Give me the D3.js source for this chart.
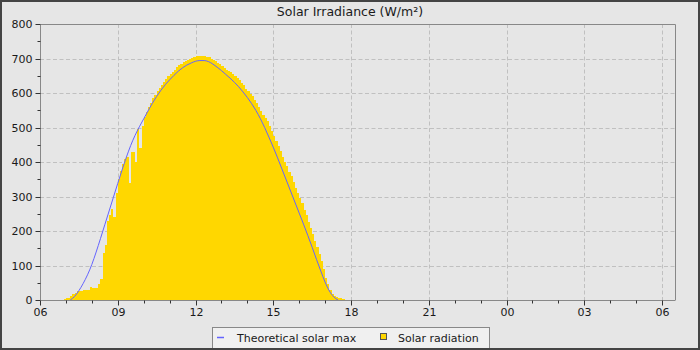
<!DOCTYPE html>
<html><head><meta charset="utf-8">
<script src="https://cdn.jsdelivr.net/npm/d3@7"></script>
<style>
html,body{margin:0;padding:0;background:#444;}
svg{display:block;font-family:"DejaVu Sans",sans-serif;}
</style>
</head><body>
<svg id="chart" width="700" height="350"></svg>
<script>
// ---- data ----
const title = "Solar Irradiance (W/m²)";
const yTickValues = [0, 100, 200, 300, 400, 500, 600, 700, 800];
const xTickLabels = ["06", "09", "12", "15", "18", "21", "00", "03", "06"];
const seriesNames = ["Theoretical solar max", "Solar radiation"];

// measured solar radiation, one value every 5 minutes starting 06:55
const radiationStart = "06:55";
const radiationStepMin = 5;
const radiation = [
  4, 5, 7, 13, 16, 21, 25, 27, 27, 28, 29, 30,            // 06:55 - 07:50
  39, 36, 34, 36, 45, 60, 136, 160, 230, 245, 265, 240,    // 07:55 - 08:50
  310, 350, 375, 395, 410, 415, 340, 430, 430, 400, 495, 440, // 08:55 - 09:50
  505, 530, 545, 558, 572, 585, 595, 605, 614, 623, 632, 640, // 09:55 - 10:50
  648, 655, 662, 668, 674, 680, 685, 689, 693, 697, 700, 702, // 10:55 - 11:50
  705, 707, 707, 706, 706, 706, 705, 703, 700, 697, 692, 688, // 11:55 - 12:50
  683, 678, 673, 668, 664, 660, 655, 650, 644, 638, 630, 622, // 12:55 - 13:50
  613, 605, 597, 590, 580, 570, 558, 547, 537, 527, 518, 505, // 13:55 - 14:50
  490, 475, 460, 445, 432, 415, 400, 388, 372, 358, 342, 325, // 14:55 - 15:50
  310, 295, 280, 262, 245, 225, 208, 190, 172, 153, 133, 112, // 15:55 - 16:50
  90, 65, 45, 28, 16, 13, 8, 6, 6, 4                          // 16:55 - 17:40
];

// theoretical clear-sky maximum, one value every 10 minutes starting 07:10
const theoreticalStart = "07:10";
const theoreticalStepMin = 10;
const theoretical = [
  0, 10, 27, 48, 73, 103,                // 07:10 - 08:00
  139, 178, 218, 258, 298, 338,          // 08:10 - 09:00
  377, 414, 448, 477, 502, 525,          // 09:10 - 10:00
  548, 570, 590, 608, 624, 638,          // 10:10 - 11:00
  651, 663, 673, 681, 687, 692,          // 11:10 - 12:00
  694, 694, 691, 684, 675, 665,          // 12:10 - 13:00
  654, 643, 631, 618, 603, 587,          // 13:10 - 14:00
  569, 549, 526, 500, 472, 443,          // 14:10 - 15:00
  412, 380, 348, 316, 284, 252,          // 15:10 - 16:00
  220, 187, 153, 118, 84, 52,            // 16:10 - 17:00
  26, 9, 0                                // 17:10 - 17:30
];

// ---- layout ----
const W = 700, H = 350;
const plot = {left: 40, top: 24, right: 675, bottom: 300};
const colors = {bg: "#e6e6e6", frame: "#444", axis: "#888", grid: "#c0c0c0",
  text: "#1a1a1a", bar: "#FFD700", line: "#6464ff", legendBg: "#f0f0f0"};

function parseHM(s) { const [h, m] = s.split(":").map(Number); return new Date(2024, 0, 1, h, m); }
const addMin = (d, m) => new Date(d.getTime() + m * 60000);

const x = d3.scaleTime()
  .domain([new Date(2024, 0, 1, 6, 0), new Date(2024, 0, 2, 6, 30)])
  .range([plot.left, plot.right]);
const y = d3.scaleLinear().domain([0, 800]).range([plot.bottom, plot.top]);

const svg = d3.select("#chart");
svg.append("rect").attr("width", W).attr("height", H).attr("fill", colors.frame);
svg.append("rect").attr("x", 2).attr("y", 2).attr("width", 696).attr("height", 346).attr("fill", colors.bg);

// title
svg.append("text").attr("x", 350).attr("y", 16).attr("text-anchor", "middle")
  .attr("font-size", 12.5).attr("fill", colors.text).text(title);

// grid
const majorTicks = d3.timeHour.every(3).range(x.domain()[0], addMin(x.domain()[1], 1));
const gridG = svg.append("g");
gridG.selectAll("line.h").data(yTickValues.filter(v => v > 0 && v < 800)).join("line")
  .attr("x1", plot.left).attr("x2", plot.right)
  .attr("y1", d => Math.round(y(d)) + 0.5).attr("y2", d => Math.round(y(d)) + 0.5)
  .attr("stroke", colors.grid).attr("stroke-dasharray", "4,2.5");
gridG.selectAll("line.v").data(majorTicks.slice(1)).join("line")
  .attr("y1", plot.top).attr("y2", plot.bottom)
  .attr("x1", d => Math.round(x(d)) + 0.5).attr("x2", d => Math.round(x(d)) + 0.5)
  .attr("stroke", colors.grid).attr("stroke-dasharray", "4,2.5");

// bars (pixel-snapped so adjacent bars leave no seams)
const radStart = parseHM(radiationStart);
const barData = radiation.map((v, i) => ({t0: addMin(radStart, i * radiationStepMin), t1: addMin(radStart, (i + 1) * radiationStepMin), v}));
svg.append("g").attr("shape-rendering", "crispEdges").selectAll("rect").data(barData).join("rect")
  .attr("x", d => Math.round(x(d.t0))).attr("width", d => Math.round(x(d.t1)) - Math.round(x(d.t0)))
  .attr("y", d => Math.round(y(d.v))).attr("height", d => Math.round(y(0)) - Math.round(y(d.v)))
  .attr("fill", colors.bar);

// theoretical line
const thStart = parseHM(theoreticalStart);
const lineData = theoretical.map((v, i) => ({t: addMin(thStart, i * theoreticalStepMin), v}));
svg.append("path").datum(lineData)
  .attr("d", d3.line().x(d => x(d.t)).y(d => y(d.v)).curve(d3.curveMonotoneX))
  .attr("fill", "none").attr("stroke", colors.line).attr("stroke-width", 1);

// plot border (top, right)
svg.append("path").attr("d", `M${plot.left + 0.5},${plot.top + 0.5}H${plot.right + 0.5}V${plot.bottom}`)
  .attr("fill", "none").attr("stroke", colors.axis);

// y axis
const yAxis = svg.append("g").attr("transform", `translate(${plot.left + 0.5},0.5)`)
  .call(d3.axisLeft(y).tickValues(yTickValues).tickSize(5).tickPadding(3).tickFormat(d3.format("d")));
yAxis.select(".domain").attr("stroke", colors.axis).attr("d", `M0,${plot.top}V${plot.bottom}`);
yAxis.selectAll(".tick line").attr("stroke", "#333");
yAxis.selectAll(".tick").attr("transform", d => `translate(0,${Math.round(y(d))})`);
yAxis.selectAll("text").attr("font-size", 11).attr("fill", colors.text).attr("font-family", "DejaVu Sans");
const yMinor = d3.range(50, 800, 100);
yAxis.selectAll("line.minor").data(yMinor).join("line").attr("class", "minor")
  .attr("x1", -3).attr("x2", 0).attr("y1", d => Math.round(y(d))).attr("y2", d => Math.round(y(d)))
  .attr("stroke", "#333");

// x axis
const xAxis = svg.append("g").attr("transform", `translate(0.5,${plot.bottom + 0.5})`)
  .call(d3.axisBottom(x).tickValues(majorTicks).tickSize(5).tickPadding(3)
    .tickFormat((d, i) => xTickLabels[i]));
xAxis.select(".domain").attr("stroke", colors.axis).attr("d", `M${plot.left},0H${plot.right}`);
xAxis.selectAll(".tick").attr("transform", d => `translate(${Math.round(x(d))},0)`);
xAxis.selectAll(".tick line").attr("stroke", "#333");
xAxis.selectAll("text").attr("font-size", 11).attr("fill", colors.text).attr("font-family", "DejaVu Sans");
const xMinor = d3.timeHour.every(1).range(x.domain()[0], x.domain()[1]).filter(d => d.getHours() % 3 !== 0);
xAxis.selectAll("line.minor").data(xMinor).join("line").attr("class", "minor")
  .attr("x1", d => Math.round(x(d))).attr("x2", d => Math.round(x(d))).attr("y1", 0).attr("y2", 3)
  .attr("stroke", "#333");

// legend
const lg = svg.append("g");
lg.append("rect").attr("x", 212.5).attr("y", 327.5).attr("width", 277).attr("height", 21)
  .attr("fill", colors.legendBg).attr("stroke", colors.axis);
lg.append("line").attr("x1", 217).attr("x2", 224).attr("y1", 337.5).attr("y2", 337.5)
  .attr("stroke", colors.line).attr("stroke-width", 1.5);
lg.append("text").attr("x", 237).attr("y", 341.5).attr("font-size", 11).attr("fill", colors.text).text(seriesNames[0]);
lg.append("rect").attr("x", 380.5).attr("y", 333.5).attr("width", 6).attr("height", 6)
  .attr("fill", colors.bar).attr("stroke", "#555");
lg.append("text").attr("x", 398).attr("y", 341.5).attr("font-size", 11).attr("fill", colors.text).text(seriesNames[1]);

// frame border over everything at the edges
svg.append("rect").attr("x", 1).attr("y", 1).attr("width", 698).attr("height", 348)
  .attr("fill", "none").attr("stroke", colors.frame).attr("stroke-width", 2);
</script>
</body></html>
